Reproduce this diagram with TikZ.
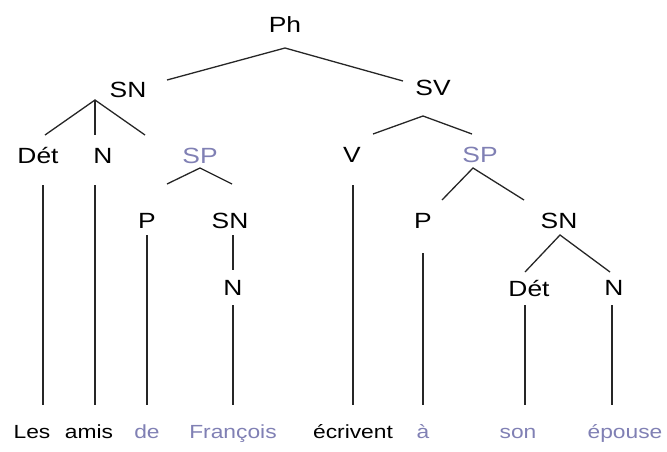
\documentclass[tikz,border=0pt]{standalone}
\usepackage{fontspec}
\setmainfont{Liberation Sans}
\newfontfamily\widesans[FakeStretch=1.2]{Liberation Sans}
\definecolor{lav}{RGB}{128,128,180}
\begin{document}
\begin{tikzpicture}[x=1pt,y=-1pt,
  cat/.style={inner sep=0pt,font=\widesans\fontsize{22}{22}\selectfont},
  catb/.style={cat,text=lav},
  word/.style={inner sep=0pt,anchor=base,font=\widesans\fontsize{19}{19}\selectfont},
  wordb/.style={word,text=lav},
  branch/.style={line width=1.3pt,black!85}]
\useasboundingbox (0,0) rectangle (667,451);

% category labels
\node[cat]  (Ph)   at (285,25)  {Ph};
\node[cat]  (SNa)  at (128,90)  {SN};
\node[cat]  (SV)   at (433,88)  {SV};
\node[cat]  (DETa) at (38,156)  {Dét};
\node[cat]  (Na)   at (103,156) {N};
\node[catb] (SPa)  at (200,156) {SP};
\node[cat]  (V)    at (352,155) {V};
\node[catb] (SPb)  at (480,155) {SP};
\node[cat]  (Pa)   at (147,221) {P};
\node[cat]  (SNb)  at (230,221) {SN};
\node[cat]  (Nb)   at (233,288) {N};
\node[cat]  (Pb)   at (423,221) {P};
\node[cat]  (SNc)  at (559,221) {SN};
\node[cat]  (DETc) at (529,288) {Dét};
\node[cat]  (Nc)   at (614,288) {N};

% words
\node[word]  (w1) at (32,438)  {Les};
\node[word]  (w2) at (89,438)  {amis};
\node[wordb] (w3) at (147,438) {de};
\node[wordb] (w4) at (233,438) {François};
\node[word]  (w5) at (353,438) {écrivent};
\node[wordb] (w6) at (423,438) {à};
\node[wordb] (w7) at (518,438) {son};
\node[wordb] (w8) at (625,438) {épouse};

% branching points and branch ends
\coordinate (Ph-j)  at (285,48);
\coordinate (Ph-l)  at (167,80);
\coordinate (Ph-r)  at (403,81);
\coordinate (SNa-j) at (95,100);
\coordinate (SNa-l) at (45,135);
\coordinate (SNa-m) at (95,135);
\coordinate (SNa-r) at (145,135);
\coordinate (SV-j)  at (423,116);
\coordinate (SV-l)  at (373,134);
\coordinate (SV-r)  at (472,134);
\coordinate (SPa-j) at (200,168);
\coordinate (SPa-l) at (167,184);
\coordinate (SPa-r) at (232,184);
\coordinate (SPb-j) at (473,168);
\coordinate (SPb-l) at (442,200);
\coordinate (SPb-r) at (524,200);
\coordinate (SNc-j) at (560,235);
\coordinate (SNc-l) at (525,272);
\coordinate (SNc-r) at (610,272);

\draw[branch] (Ph-l) -- (Ph-j) -- (Ph-r);
\draw[branch] (SNa-l) -- (SNa-j) -- (SNa-r);
\draw[branch] (SNa-j) -- (SNa-m);
\draw[branch] (SV-l) -- (SV-j) -- (SV-r);
\draw[branch] (SPa-l) -- (SPa-j) -- (SPa-r);
\draw[branch] (SPb-l) -- (SPb-j) -- (SPb-r);
\draw[branch] (SNc-l) -- (SNc-j) -- (SNc-r);

% vertical branches down to the words
\coordinate (DETa-b) at (43,185);  \coordinate (w1-t) at (43,405);
\coordinate (Na-b)   at (95,185);  \coordinate (w2-t) at (95,405);
\coordinate (Pa-b)   at (147,235); \coordinate (w3-t) at (147,405);
\coordinate (SNb-b)  at (233,235); \coordinate (Nb-t) at (233,270);
\coordinate (Nb-b)   at (233,305); \coordinate (w4-t) at (233,405);
\coordinate (V-b)    at (353,185); \coordinate (w5-t) at (353,405);
\coordinate (Pb-b)   at (423,253); \coordinate (w6-t) at (423,405);
\coordinate (DETc-b) at (525,305); \coordinate (w7-t) at (525,405);
\coordinate (Nc-b)   at (612,305); \coordinate (w8-t) at (612,405);

\draw[branch] (DETa-b) -- (w1-t);
\draw[branch] (Na-b) -- (w2-t);
\draw[branch] (Pa-b) -- (w3-t);
\draw[branch] (SNb-b) -- (Nb-t);
\draw[branch] (Nb-b) -- (w4-t);
\draw[branch] (V-b) -- (w5-t);
\draw[branch] (Pb-b) -- (w6-t);
\draw[branch] (DETc-b) -- (w7-t);
\draw[branch] (Nc-b) -- (w8-t);
\end{tikzpicture}
\end{document}
